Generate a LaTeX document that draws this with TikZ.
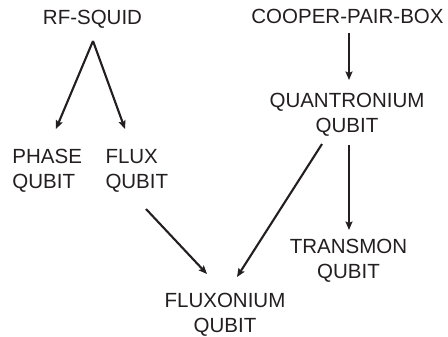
\documentclass[tikz,border=0pt]{standalone}
\usepackage{fontspec}
\setmainfont{Liberation Sans}
\usetikzlibrary{arrows.meta,calc}
\definecolor{ink}{RGB}{35,31,32}
\begin{document}
\begin{tikzpicture}[x=1pt,y=-1pt,
  lbl/.style={inner sep=0pt,outer sep=0pt,text=ink,font=\fontsize{20.5}{25}\selectfont},
  arr/.style={draw=ink,line width=2.1pt,-{Stealth[length=8.5pt,width=7pt,inset=1.5pt]}}]
\useasboundingbox[fill=white] (0,0) rectangle (448,337);
\node[lbl,anchor=north] (rf) at (92.5,10) {RF-SQUID};
\node[lbl,anchor=north] (cpb) at (347.5,9) {COOPER-PAIR-BOX};
\node[lbl,anchor=north,align=center] (qr) at (347,93) {QUANTRONIUM\\QUBIT};
\node[lbl,anchor=north west,align=left] (phase) at (12.5,149) {PHASE\\QUBIT};
\node[lbl,anchor=north west,align=left] (flux) at (105.5,149) {FLUX\\QUBIT};
\node[lbl,anchor=north,align=center] (tm) at (348.5,239.5) {TRANSMON\\QUBIT};
\node[lbl,anchor=north,align=center] (fx) at (225,293) {FLUXONIUM\\QUBIT};
\coordinate (apex) at ($(rf.north)+(0.5,31)$);
\draw[arr] (apex) -- ($(phase.north)+(8.7,-20)$);
\draw[arr] (apex) -- ($(flux.north west)+(19.5,-20)$);
\draw[arr] ($(cpb.north)+(1.5,24)$) -- ($(qr.north)+(2,-13)$);
\draw[arr] ($(qr.north)+(2,52)$) -- ($(tm.north)+(0.5,-9.5)$);
\draw[arr] ($(qr.north)+(-25,51)$) -- ($(fx.north)+(12,-16)$);
\draw[arr] ($(flux.north west)+(40.5,60)$) -- ($(fx.north)+(-18,-19)$);
\end{tikzpicture}
\end{document}
